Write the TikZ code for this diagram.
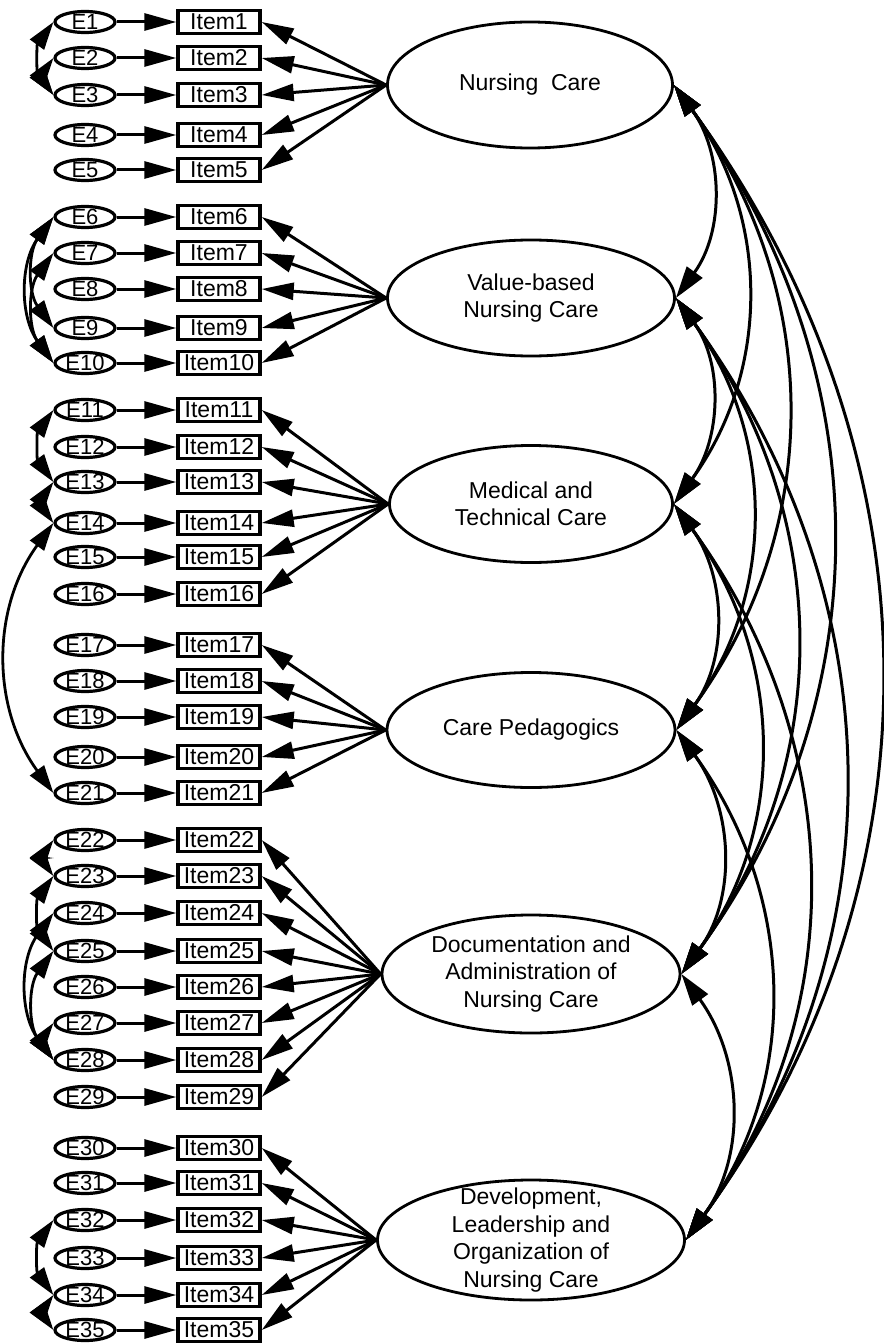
\documentclass[tikz,border=0pt]{standalone}
\usepackage{fontspec}
\setmainfont{Liberation Sans}
\usetikzlibrary{shapes.geometric,arrows.meta}
\tikzset{
  itembox/.style={draw, line width=3.4pt, minimum width=82pt, minimum height=23pt, inner sep=0pt, font=\fontsize{23}{23}\selectfont},
  errell/.style={draw, ellipse, line width=3.2pt, minimum width=60pt, minimum height=21pt, inner sep=0pt},
  errlab/.style={inner sep=0pt, font=\fontsize{22}{22}\selectfont},
  factor/.style={draw, ellipse, line width=2.8pt, inner sep=0pt},
  flab/.style={inner sep=0pt, align=center, font=\fontsize{23}{27.5}\selectfont},
  load/.style={line width=3pt, -{Triangle[length=32pt,width=17pt]}},
  fcov/.style={line width=3pt, {Triangle[length=32pt,width=19pt]}-{Triangle[length=32pt,width=19pt]}},
  ecov/.style={line width=2.8pt, {Triangle[length=28pt,width=17pt]}-{Triangle[length=28pt,width=17pt]}},
}
\begin{document}
\begin{tikzpicture}[x=1pt,y=-1pt]
\useasboundingbox (0,0) rectangle (883,1343);
\fill[white] (0,0) rectangle (883,1343);

% items and error terms
\foreach \i/\y in {1/22,2/58,3/95,4/135,5/170,6/217,7/253,8/289,9/328,10/363,
  11/410,12/447,13/482,14/523,15/557,16/594,17/645,18/681,19/717,20/757,21/793,
  22/840,23/876,24/913,25/951,26/987,27/1023,28/1060,29/1097,
  30/1148,31/1183,32/1220,33/1258,34/1295,35/1330}{
  \node[itembox] (i\i) at (219,\y) {Item\i};
  \node[errell] (e\i) at (85,\y) {};
  \node[errlab] at (e\i.center) {E\i};
  \draw[load] (e\i.east) -- (i\i.west);
}

% factors
\node[factor, minimum width=285pt, minimum height=126pt] (f1) at (530,85) {};
\node[flab] at (f1.center) {Nursing\ \ Care};
\node[factor, minimum width=287pt, minimum height=116pt] (f2) at (531,298) {};
\node[flab] at (f2.center) {Value-based\\Nursing Care};
\node[factor, minimum width=283pt, minimum height=117pt] (f3) at (531,504) {};
\node[flab] at (f3.center) {Medical and\\Technical Care};
\node[factor, minimum width=288pt, minimum height=115pt] (f4) at (531,730) {};
\node[flab] at (f4.center) {Care Pedagogics};
\node[factor, minimum width=298pt, minimum height=118pt] (f5) at (531,974) {};
\node[flab] at (f5.center) {Documentation and\\Administration of\\Nursing Care};
\node[factor, minimum width=307pt, minimum height=120pt] (f6) at (531,1240) {};
\node[flab] at (f6.center) {Development,\\Leadership and\\Organization of\\Nursing Care};

% loadings
\foreach \i in {1,...,5} \draw[load] (f1.west) -- (i\i.east);
\foreach \i in {6,...,10} \draw[load] (f2.west) -- (i\i.east);
\foreach \i in {11,...,16} \draw[load] (f3.west) -- (i\i.east);
\foreach \i in {17,...,21} \draw[load] (f4.west) -- (i\i.east);
\foreach \i in {22,...,29} \draw[load] (f5.west) -- (i\i.east);
\foreach \i in {30,...,35} \draw[load] (f6.west) -- (i\i.east);

% factor correlations (arcs bulging to the right)
\foreach \a/\ya/\b/\yb in {1/85/2/298,1/85/3/504,1/85/4/730,1/85/5/974,1/85/6/1240,
  2/298/3/504,2/298/4/730,2/298/5/974,2/298/6/1240,
  3/504/4/730,3/504/5/974,3/504/6/1240,
  4/730/5/974,4/730/6/1240,5/974/6/1240}{
  \pgfmathsetmacro\dd{0.3915*(\yb-\ya)}
  \pgfmathsetmacro\ds{\dd*0.5878}
  \pgfmathsetmacro\dc{\dd*0.8090}
  \draw[fcov] (f\a.east) .. controls ([shift={(\ds,\dc)}]f\a.east) and ([shift={(\ds,-\dc)}]f\b.east) .. (f\b.east);
}

% error covariances (arcs bulging to the left)
\foreach \a/\ya/\b/\yb in {1/22/3/95,2/58/3/95,6/217/9/328,6/217/10/363,7/253/10/363,
  11/410/13/482,13/482/14/523,14/523/21/793,22/840/23/876,23/876/25/951,
  24/913/28/1060,25/951/28/1060,27/1023/28/1060,32/1220/34/1295,34/1295/35/1330}{
  \pgfmathsetmacro\dd{0.3915*(\yb-\ya)}
  \pgfmathsetmacro\ds{\dd*0.5878}
  \pgfmathsetmacro\dc{\dd*0.8090}
  \draw[ecov] (e\a.west) .. controls ([shift={(-\ds,\dc)}]e\a.west) and ([shift={(-\ds,-\dc)}]e\b.west) .. (e\b.west);
}
\end{tikzpicture}
\end{document}
